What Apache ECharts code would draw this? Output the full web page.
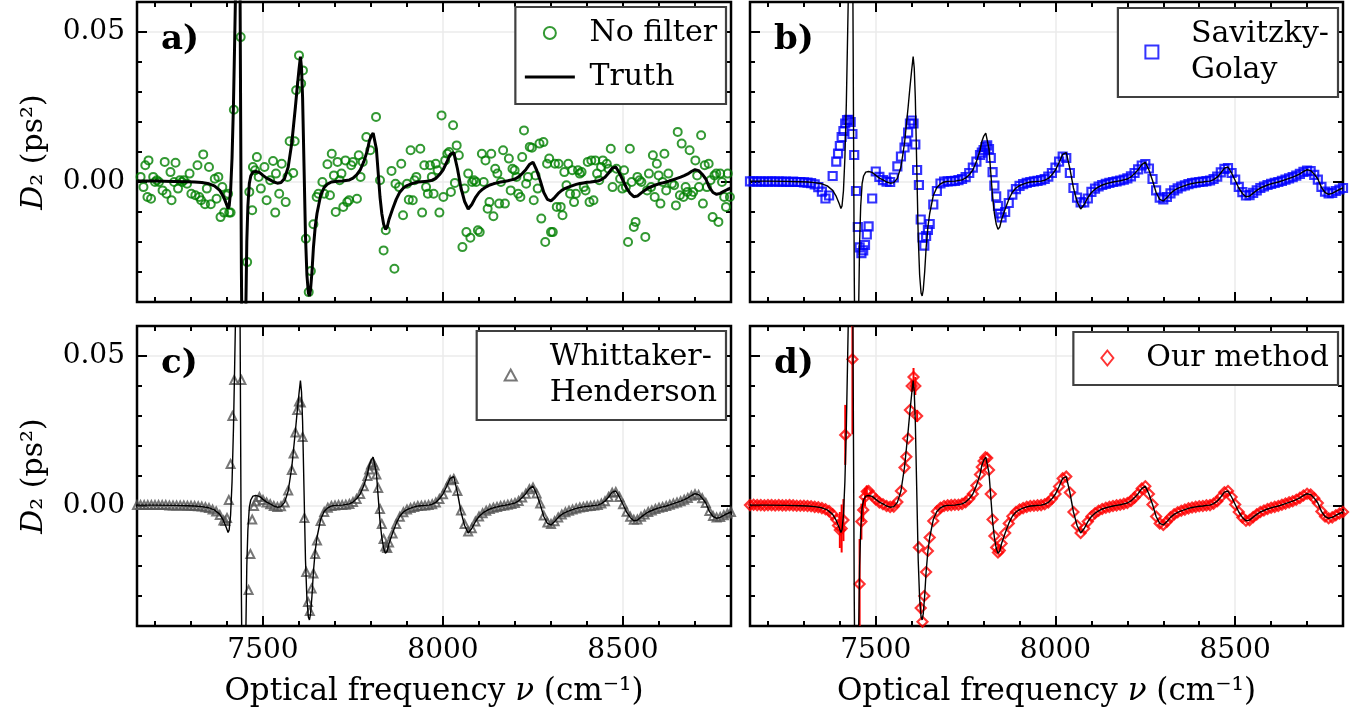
<!DOCTYPE html>
<html><head><meta charset="utf-8">
<script src="https://cdn.jsdelivr.net/npm/echarts@6/dist/echarts.min.js"></script>
<style>html,body{margin:0;padding:0;background:#fff}#c{width:1363px;height:725px}</style>
</head><body><div id="c"></div>
<script>
// ---------- axis ranges / tick labels ----------
const xMin = 7150, xMax = 8800, yMin = -0.04, yMax = 0.06;
const xMajorTicks = [7500, 8000, 8500];
const xMinorTicks = [7200, 7300, 7400, 7600, 7700, 7800, 7900, 8100, 8200, 8300, 8400, 8600, 8700];
const yMajorTicks = [0.00, 0.05];
const yMinorTicks = [-0.03, -0.02, -0.01, 0.01, 0.02, 0.03, 0.04];
const panelLabels = ['a)', 'b)', 'c)', 'd)'];
const seriesNames = ['No filter', 'Savitzky-\nGolay', 'Whittaker-\nHenderson', 'Our method'];

// ---------- truth curve ----------
const truthX = [7150,7200,7250,7290,7310,7330,7350,7365,7380,7390,7398,7403,7406,7410,7414,7418,7421,7424,7427,7430,7433,7436,7438,7440,7443,7446,7449,7452,7455,7458,7462,7466,7472,7480,7490,7500,7510,7520,7530,7540,7550,7560,7570,7580,7585,7590,7595,7600,7604,7607,7610,7614,7618,7622,7626,7629,7632,7636,7640,7645,7650,7660,7670,7680,7690,7700,7720,7740,7750,7760,7770,7780,7790,7795,7800,7806,7810,7815,7820,7825,7830,7835,7840,7845,7850,
7860,7870,7880,7890,7900,7910,7920,7930,7940,7950,7960,7970,7980,7990,8000,8010,8020,8030,8040,8050,8060,8070,8080,8090,8100,8110,8120,8130,8140,8150,8160,8170,8180,8190,8200,8210,8220,8230,8240,8250,8260,8270,8280,8290,8300,8310,8320,8330,8340,8350,8360,8370,8380,8390,8400,8410,8420,8430,8440,8450,8460,8470,8480,8490,8500,8510,8520,8530,8540,8550,8560,8570,8580,8590,8600,8610,8620,8630,8640,8650,8660,8670,8680,8690,8700,8710,8720,8730,8740,8750,8760,8770,8780,8790,8800];
const truthY = [0.0003,0.0003,0.0002,0.0001,0.0000,-0.0002,-0.0006,-0.0013,-0.0028,-0.0048,-0.0072,-0.0088,-0.0080,-0.0030,0.0080,0.0260,0.0450,0.0650,0.0900,0.1100,0.1000,0.0700,0.0200,-0.0300,-0.0700,-0.0900,-0.0750,-0.0450,-0.0200,-0.0080,-0.0005,0.0020,0.0033,0.0035,0.0032,0.0022,0.0013,0.0007,0.0000,-0.0004,-0.0002,0.0012,0.0050,0.0130,0.0190,0.0250,0.0315,0.0375,0.0418,0.0380,0.0280,0.0050,-0.0180,-0.0310,-0.0370,-0.0380,-0.0360,-0.0300,-0.0220,-0.0150,-0.0105,-0.0045,-0.0018,-0.0006,0.0000,0.0002,0.0003,0.0007,0.0013,0.0024,0.0040,0.0068,0.0105,0.0135,0.0152,0.0163,0.0158,0.0110,0.0030,-0.0050,-0.0105,-0.0140,-0.0158,-0.0150,-0.0125,
-0.0090,-0.0058,-0.0034,-0.0020,-0.0012,-0.0007,-0.0003,0.0000,0.0001,0.0002,0.0003,0.0006,0.0012,0.0024,0.0040,0.0065,0.0092,0.0098,0.0045,-0.0020,-0.0065,-0.0090,-0.0075,-0.0052,-0.0035,-0.0024,-0.0016,-0.0010,-0.0006,-0.0003,0.0000,0.0002,0.0004,0.0007,0.0010,0.0017,0.0028,0.0041,0.0058,0.0066,0.0040,0.0005,-0.0035,-0.0058,-0.0063,-0.0052,-0.0038,-0.0028,-0.0021,-0.0016,-0.0012,-0.0008,-0.0005,-0.0003,-0.0001,0.0000,0.0002,0.0003,0.0008,0.0016,0.0030,0.0046,0.0050,0.0030,0.0005,-0.0020,-0.0038,-0.0049,-0.0047,-0.0037,-0.0028,-0.0020,-0.0015,-0.0010,-0.0006,-0.0003,0.0000,0.0004,0.0008,0.0012,0.0016,0.0021,0.0027,0.0035,0.0041,0.0038,0.0026,0.0010,-0.0018,-0.0035,-0.0041,-0.0038,-0.0031,-0.0025,-0.0020];

// ---------- panel a: unfiltered (noisy) samples ----------
const rawX = [7160,7168,7173,7179,7182,7189,7195,7200,7205,7211,7221,7227,7232,7243,7246,7253,7257,7264,7269,7275,7280,7289,7296,7301,7312,7318,7323,7328,7334,7339,7344,7350,7355,7366,7371,7376,7382,7387,7392,7398,7403,7406,7410,7419,7438,7456,7462,7470,7472,7478,7483,7488,7494,7504,7510,7520,7528,7534,7536,7545,7552,7563,7568,7574,7584,7588,7592,7600,7606,7611,7619,7627,7633,7640,7649,7654,7665,7670,7679,7686,7691,7697,7702,7707,7713,7718,7723,7729,7734,7739,7745,7750,7761,7766,7771,7777,7787,7798,7814,7825,7835,7841,7857,7865,7868,7878,7884,7889,7900,7905,7910,7916,7921,7926,7937,7942,7948,7953,7958,7964,7969,7974,7980,7985,7990,7996,8001,8006,8012,8017,8022,8028,8033,8038,8044,8054,8060,8065,8070,8076,8081,8086,8092,8097,8102,8108,8113,8118,8124,8129,8134,8140,8145,8151,8156,8161,8167,8172,8183,8188,8193,8199,8204,8209,8215,8220,8225,8231,8236,8241,8247,8252,8257,8263,8268,8273,8279,8284,8289,8295,8300,8305,8311,8316,8321,8327,8332,8337,8343,8348,8353,8359,8364,8369,8375,8380,8385,8391,8396,8402,8407,8412,8418,8423,8428,8434,8439,8444,8455,8460,8466,8471,8482,8492,8498,8503,8508,8514,8519,8524,8530,8535,8540,8546,8551,8562,8567,8572,8578,8583,8588,8594,8599,8604,8610,8615,8620,8626,8636,8642,8647,8652,8658,8663,8668,8674,8679,8685,8690,8695,8701,8706,8711,8717,8722,8727,8733,8738,8743,8749,8754,8759,8765,8770,8775,8781,8786,8791,8797];
const rawY = [0.0017,-0.0017,0.0056,-0.0050,0.0072,-0.0056,0.0017,0.0000,0.0006,0.0000,-0.0028,0.0067,-0.0039,0.0033,-0.0061,0.0000,0.0064,-0.0022,0.0006,0.0000,0.0006,-0.0006,0.0028,-0.0039,-0.0044,0.0056,-0.0050,-0.0061,0.0092,-0.0074,-0.0022,0.0050,-0.0074,0.0011,-0.0056,0.0017,-0.0117,-0.0017,-0.0102,-0.0044,-0.0039,-0.0102,-0.0102,0.0241,0.0483,-0.0267,-0.0033,-0.0094,0.0050,0.0039,0.0083,0.0017,-0.0022,0.0050,-0.0061,0.0006,0.0070,-0.0102,0.0028,-0.0039,0.0061,-0.0067,0.0017,0.0136,0.0030,0.0136,0.0306,0.0422,0.0328,0.0372,-0.0189,-0.0367,-0.0297,-0.0141,-0.0050,-0.0039,0.0000,-0.0039,0.0059,-0.0044,0.0094,0.0022,-0.0100,0.0067,0.0006,0.0028,-0.0083,0.0072,-0.0067,-0.0061,0.0056,0.0067,-0.0056,0.0089,0.0017,0.0067,0.0150,0.0106,0.0217,0.0006,-0.0228,-0.0161,0.0037,-0.0289,-0.0006,-0.0017,0.0061,-0.0111,-0.0006,-0.0059,0.0106,-0.0061,0.0006,0.0017,0.0111,-0.0102,0.0056,-0.0017,-0.0039,0.0056,0.0017,-0.0039,0.0061,0.0039,-0.0102,0.0222,-0.0050,0.0072,0.0094,0.0100,-0.0033,0.0189,-0.0003,0.0122,0.0089,-0.0217,-0.0022,-0.0167,0.0028,-0.0186,0.0000,0.0006,0.0000,-0.0161,-0.0167,0.0094,0.0000,0.0072,-0.0089,-0.0067,0.0094,-0.0114,0.0044,0.0028,-0.0072,0.0000,0.0106,-0.0072,0.0078,-0.0028,0.0044,0.0039,0.0017,-0.0039,-0.0050,0.0083,0.0172,-0.0006,0.0017,0.0117,0.0114,-0.0061,0.0022,-0.0022,0.0128,-0.0122,0.0133,-0.0200,0.0061,0.0078,-0.0167,-0.0167,0.0061,-0.0083,0.0061,-0.0083,-0.0111,0.0033,-0.0011,0.0061,-0.0039,0.0039,-0.0067,-0.0039,0.0039,0.0028,0.0033,-0.0017,-0.0028,0.0067,-0.0067,0.0072,-0.0061,0.0072,0.0028,0.0006,0.0050,0.0072,0.0061,0.0044,0.0111,-0.0017,0.0044,0.0011,-0.0022,0.0039,-0.0017,-0.0200,0.0111,0.0000,-0.0150,-0.0133,0.0017,0.0006,0.0000,-0.0183,-0.0028,0.0028,-0.0017,0.0089,-0.0050,0.0061,0.0022,-0.0072,0.0000,0.0094,-0.0028,0.0028,-0.0006,-0.0011,-0.0078,0.0167,-0.0044,0.0128,-0.0050,-0.0017,-0.0033,0.0106,-0.0044,-0.0033,0.0072,0.0022,-0.0017,0.0156,-0.0072,0.0056,-0.0017,0.0061,0.0006,-0.0117,0.0022,0.0028,-0.0133,0.0028,0.0000,-0.0050,-0.0083,0.0028,-0.0050];

// ---------- panels b, c, d: filtered samples on a shared frequency grid ----------
const filtX = [7150,7160,7170,7180,7190,7200,7210,7220,7230,7240,7250,7260,7270,7280,7290,7300,7310,7320,7330,7340,7350,7360,7370,7380,7390,
7395,7400,7405,7410,7415,7420,7425,7430,7435,7440,7445,7450,7455,7460,7465,7470,7475,7480,
7490,7500,7510,7520,7530,7540,7550,7560,7570,7580,
7585,7590,7595,7600,7605,7610,7615,7620,7625,7630,7635,7640,7645,7650,
7660,7670,7680,7690,7700,7710,7720,7730,7740,7750,7760,7770,7780,7790,
7795,7800,7805,7810,7815,7820,7825,7830,7835,7840,7845,7850,
7860,7870,7880,7890,7900,7910,7920,7930,7940,7950,7960,7970,7980,7990,8000,8010,8020,8030,8040,8050,8060,8070,8080,8090,8100,8110,8120,8130,8140,8150,8160,8170,8180,8190,8200,8210,8220,8230,8240,8250,8260,8270,8280,8290,8300,8310,8320,8330,8340,8350,8360,8370,8380,8390,8400,8410,8420,8430,8440,8450,8460,8470,8480,8490,8500,8510,8520,8530,8540,8550,8560,8570,8580,8590,8600,8610,8620,8630,8640,8650,8660,8670,8680,8690,8700,8710,8720,8730,8740,8750,8760,8770,8780,8790,8800];

const sgY = [0.0002,0.0002,0.0001,0.0002,0.0001,0.0001,0.0002,0.0001,0.0001,0.0001,0.0001,0.0000,0.0001,0.0000,0.0000,-0.0001,-0.0002,-0.0004,-0.0008,-0.0017,-0.0032,-0.0055,-0.0045,0.0020,0.0068,
0.0095,0.0120,0.0150,0.0170,0.0195,0.0206,0.0207,0.0200,0.0160,0.0090,-0.0030,-0.0150,-0.0218,-0.0237,-0.0228,-0.0210,-0.0175,-0.0148,
-0.0055,0.0035,0.0017,0.0006,0.0001,0.0000,0.0015,0.0052,0.0085,0.0115,
0.0135,0.0165,0.0195,0.0205,0.0195,0.0125,0.0040,-0.0010,-0.0125,-0.0185,-0.0212,-0.0180,-0.0160,-0.0140,
-0.0075,-0.0030,-0.0005,0.0001,0.0002,0.0003,0.0004,0.0006,0.0010,0.0016,0.0030,0.0048,0.0068,0.0090,
0.0098,0.0106,0.0116,0.0122,0.0110,0.0080,0.0033,-0.0012,-0.0048,-0.0080,-0.0105,-0.0118,
-0.0100,-0.0070,-0.0042,-0.0024,-0.0013,-0.0007,-0.0003,0.0000,0.0002,0.0004,0.0006,0.0010,0.0018,0.0030,0.0048,0.0068,0.0085,0.0080,0.0030,-0.0020,-0.0052,-0.0068,-0.0068,-0.0055,-0.0033,-0.0022,-0.0015,-0.0010,-0.0006,-0.0003,0.0000,0.0002,0.0005,0.0008,0.0012,0.0019,0.0030,0.0042,0.0055,0.0060,0.0045,0.0010,-0.0028,-0.0052,-0.0058,-0.0050,-0.0038,-0.0028,-0.0021,-0.0015,-0.0011,-0.0007,-0.0004,-0.0002,0.0000,0.0001,0.0003,0.0005,0.0010,0.0018,0.0032,0.0044,0.0046,0.0030,0.0008,-0.0016,-0.0034,-0.0045,-0.0044,-0.0036,-0.0028,-0.0020,-0.0015,-0.0010,-0.0006,-0.0003,0.0000,0.0004,0.0008,0.0012,0.0016,0.0021,0.0027,0.0034,0.0038,0.0036,0.0024,0.0008,-0.0016,-0.0032,-0.0038,-0.0036,-0.0030,-0.0025,-0.0020];

const whY = [0.0003,0.0003,0.0003,0.0003,0.0003,0.0003,0.0003,0.0003,0.0003,0.0002,0.0002,0.0002,0.0002,0.0002,0.0001,0.0001,0.0000,-0.0001,-0.0002,-0.0004,-0.0007,-0.0012,-0.0018,-0.0030,-0.0048,
-0.0050,-0.0040,0.0020,0.0140,0.0300,0.0420,0.0800,0.0950,0.0700,0.0420,-0.0700,-0.0800,-0.0500,-0.0280,-0.0160,-0.0045,0.0000,0.0015,
0.0030,0.0020,0.0012,0.0006,0.0000,-0.0003,-0.0001,0.0012,0.0052,0.0120,
0.0175,0.0245,0.0320,0.0348,0.0345,0.0230,-0.0040,-0.0220,-0.0320,-0.0350,-0.0275,-0.0225,-0.0160,-0.0115,
-0.0050,-0.0020,-0.0006,0.0000,0.0002,0.0003,0.0003,0.0004,0.0007,0.0013,0.0023,0.0040,0.0066,0.0100,
0.0122,0.0138,0.0145,0.0135,0.0105,0.0060,-0.0010,-0.0060,-0.0110,-0.0135,-0.0140,-0.0122,
-0.0092,-0.0060,-0.0036,-0.0021,-0.0012,-0.0007,-0.0003,0.0000,0.0001,0.0002,0.0003,0.0006,0.0012,0.0023,0.0039,0.0062,0.0086,0.0090,0.0050,-0.0015,-0.0060,-0.0085,-0.0074,-0.0052,-0.0035,-0.0024,-0.0016,-0.0010,-0.0006,-0.0003,0.0000,0.0002,0.0004,0.0007,0.0010,0.0017,0.0028,0.0041,0.0056,0.0062,0.0042,0.0008,-0.0032,-0.0055,-0.0060,-0.0051,-0.0038,-0.0028,-0.0021,-0.0016,-0.0012,-0.0008,-0.0005,-0.0003,-0.0001,0.0000,0.0002,0.0003,0.0008,0.0016,0.0030,0.0044,0.0047,0.0030,0.0006,-0.0019,-0.0036,-0.0046,-0.0045,-0.0036,-0.0028,-0.0020,-0.0015,-0.0010,-0.0006,-0.0003,0.0000,0.0004,0.0008,0.0012,0.0016,0.0021,0.0027,0.0034,0.0039,0.0037,0.0026,0.0010,-0.0017,-0.0033,-0.0038,-0.0037,-0.0031,-0.0025,-0.0020];

const oursY = [0.0003,0.0004,0.0003,0.0003,0.0002,0.0003,0.0003,0.0002,0.0003,0.0002,0.0002,0.0003,0.0002,0.0001,0.0001,0.0001,0.0000,-0.0001,-0.0003,-0.0004,-0.0007,-0.0011,-0.0017,-0.0028,-0.0045,
-0.0065,-0.0080,-0.0075,-0.0047,0.0237,0.0700,0.0950,0.1000,0.0489,-0.0700,-0.0950,-0.0650,-0.0260,-0.0052,-0.0013,0.0030,0.0048,0.0050,
0.0035,0.0022,0.0012,0.0006,0.0000,-0.0003,-0.0002,0.0013,0.0050,0.0128,
0.0164,0.0225,0.0320,0.0400,0.0430,0.0400,0.0300,-0.0138,-0.0340,-0.0386,-0.0300,-0.0220,-0.0150,-0.0105,
-0.0050,-0.0018,-0.0006,0.0000,0.0002,0.0003,0.0004,0.0004,0.0007,0.0013,0.0024,0.0040,0.0068,0.0105,
0.0130,0.0150,0.0162,0.0160,0.0120,0.0040,-0.0045,-0.0100,-0.0138,-0.0155,-0.0148,-0.0125,
-0.0090,-0.0058,-0.0034,-0.0020,-0.0012,-0.0007,-0.0003,0.0000,0.0001,0.0002,0.0003,0.0006,0.0012,0.0024,0.0040,0.0065,0.0092,0.0098,0.0045,-0.0020,-0.0065,-0.0090,-0.0075,-0.0052,-0.0035,-0.0024,-0.0016,-0.0010,-0.0006,-0.0003,0.0000,0.0002,0.0004,0.0007,0.0010,0.0017,0.0028,0.0041,0.0058,0.0066,0.0040,0.0005,-0.0035,-0.0058,-0.0063,-0.0052,-0.0038,-0.0028,-0.0021,-0.0016,-0.0012,-0.0008,-0.0005,-0.0003,-0.0001,0.0000,0.0002,0.0003,0.0008,0.0016,0.0030,0.0046,0.0050,0.0030,0.0005,-0.0020,-0.0038,-0.0049,-0.0047,-0.0037,-0.0028,-0.0020,-0.0015,-0.0010,-0.0006,-0.0003,0.0000,0.0004,0.0008,0.0012,0.0016,0.0021,0.0027,0.0035,0.0041,0.0038,0.0026,0.0010,-0.0018,-0.0035,-0.0041,-0.0038,-0.0031,-0.0025,-0.0020];

// uncertainty (half-width) of "Our method" at selected grid frequencies
const oursErrX = [7400, 7405, 7410, 7415, 7435, 7455, 7460, 7465, 7470, 7475, 7600, 7605, 7610, 7615, 7625];
const oursErr  = [0.006, 0.008, 0.007, 0.010, 0.025, 0.015, 0.006, 0.004, 0.003, 0.002, 0.002, 0.003, 0.003, 0.002, 0.002];

// ---------- build chart ----------
const FONT = 'DejaVu Serif';
const pair = (xs, ys) => xs.map((x, i) => [x, ys[i]]);
const grids = [
  {left: 137, top: 2, width: 594, height: 300},
  {left: 750, top: 2, width: 593, height: 300},
  {left: 137, top: 326, width: 594, height: 300},
  {left: 750, top: 326, width: 593, height: 300}
];
const xAxes = [], yAxes = [];
grids.forEach((g, i) => {
  const bottomRow = i >= 2, leftCol = i % 2 === 0;
  const tick = (vals, len) => ({show: true, inside: true, length: len, customValues: vals, lineStyle: {color: '#000', width: 2}});
  const base = {type: 'value', gridIndex: i, axisLine: {show: false, onZero: false}, splitLine: {show: false}, axisLabel: {show: false}};
  xAxes.push(Object.assign({}, base, {position: 'bottom', min: xMin, max: xMax,
    axisTick: tick(xMajorTicks, 10),
    splitLine: {show: true, lineStyle: {color: '#ebebeb', width: 1.5}},
    axisLabel: {show: bottomRow, customValues: xMajorTicks, margin: 11, color: '#000', fontFamily: FONT, fontSize: 28,
      formatter: v => String(Math.round(v))},
    name: bottomRow ? 'Optical frequency {i|ν} (cm⁻¹)' : '', nameLocation: 'middle', nameGap: 50,
    nameTextStyle: {color: '#000', fontFamily: FONT, fontSize: 31, rich: {i: {fontStyle: 'italic', fontFamily: FONT, fontSize: 31, color: '#000'}}}
  }));
  xAxes.push(Object.assign({}, base, {position: 'bottom', min: xMin, max: xMax, axisTick: tick(xMinorTicks, 5)}));
  xAxes.push(Object.assign({}, base, {position: 'top', min: xMin, max: xMax, axisTick: tick(xMajorTicks, 10)}));
  xAxes.push(Object.assign({}, base, {position: 'top', min: xMin, max: xMax, axisTick: tick(xMinorTicks, 5)}));
  yAxes.push(Object.assign({}, base, {position: 'left', min: yMin, max: yMax,
    axisTick: tick(yMajorTicks, 10),
    splitLine: {show: true, lineStyle: {color: '#ebebeb', width: 1.5}},
    axisLabel: {show: leftCol, customValues: yMajorTicks, margin: 12, color: '#000', fontFamily: FONT, fontSize: 28,
      formatter: v => v.toFixed(2)},
    name: leftCol ? '{i|D}₂ (ps²)' : '', nameLocation: 'middle', nameRotate: 90, nameGap: 88,
    nameTextStyle: {color: '#000', fontFamily: FONT, fontSize: 30, rich: {i: {fontStyle: 'italic', fontFamily: FONT, fontSize: 30, color: '#000'}}}
  }));
  yAxes.push(Object.assign({}, base, {position: 'left', min: yMin, max: yMax, axisTick: tick(yMinorTicks, 5)}));
  yAxes.push(Object.assign({}, base, {position: 'right', min: yMin, max: yMax, axisTick: tick(yMajorTicks, 10)}));
  yAxes.push(Object.assign({}, base, {position: 'right', min: yMin, max: yMax, axisTick: tick(yMinorTicks, 5)}));
});

const markerStyles = [
  {symbol: 'circle', size: 8, color: '#008000', bw: 2},
  {symbol: 'rect', size: 8, color: '#0000ff', bw: 2.2},
  {symbol: 'triangle', size: 8, color: '#555555', bw: 2},
  {symbol: 'diamond', size: 10, color: '#ff0000', bw: 2.2}
];
const markerData = [pair(rawX, rawY), pair(filtX, sgY), pair(filtX, whY), pair(filtX, oursY)];

const series = [];
markerData.forEach((d, i) => {
  const m = markerStyles[i];
  series.push({type: 'scatter', name: seriesNames[i], xAxisIndex: 4 * i, yAxisIndex: 4 * i,
    data: d, symbol: m.symbol, symbolSize: m.size, clip: true, z: 2,
    itemStyle: {color: 'rgba(0,0,0,0)', borderColor: m.color, borderWidth: m.bw}});
});
const oursErrData = oursErrX.map((x, k) => [x, oursY[filtX.indexOf(x)], oursErr[k]]);
series.push({type: 'custom', xAxisIndex: 12, yAxisIndex: 12, clip: true, z: 3, data: oursErrData,
  renderItem: (p, api) => {
    const x = api.value(0), y = api.value(1), e = api.value(2);
    const a = api.coord([x, y - e]), b = api.coord([x, y + e]);
    return {type: 'line', shape: {x1: a[0], y1: a[1], x2: b[0], y2: b[1]}, style: {stroke: '#ff0000', lineWidth: 2}};
  }});
for (let i = 0; i < 4; i++) {
  series.push({type: 'line', name: i === 0 ? 'Truth' : 'truth' + i, xAxisIndex: 4 * i, yAxisIndex: 4 * i,
    data: pair(truthX, truthY), showSymbol: false, symbol: 'none', clip: true, z: 5,
    lineStyle: {color: '#000', width: i === 0 ? 3 : 1.4}, itemStyle: {color: '#000'}});
}

// legends: icon centre sits 33 px from the box edge, text starts 39 px after icon centre
const legendBase = {orient: 'vertical', selectedMode: false, backgroundColor: '#fff',
  borderColor: '#404040', borderWidth: 2.2, borderRadius: 0, itemGap: 8,
  textStyle: {color: '#000', fontFamily: FONT, fontSize: 30, lineHeight: 36}};
const spacerLegend = (name, w, h, right, top) => Object.assign({}, legendBase, {
  data: [name], right: right, top: top, itemWidth: w, itemHeight: h,
  padding: [8, 9, 9, 33 - w / 2],
  formatter: n => n.split('\n').map(s => '{s| }' + s).join('\n'),
  textStyle: Object.assign({}, legendBase.textStyle, {rich: {s: {width: 34 - w / 2, fontSize: 30, lineHeight: 36}}})
});
const legends = [
  Object.assign({}, legendBase, {data: ['No filter', {name: 'Truth', itemStyle: {opacity: 0}, lineStyle: {width: 3, color: '#000'}}], right: 637, top: 7,
    itemWidth: 50, itemHeight: 12, padding: [8, 9, 9, 8],
    formatter: n => ' ' + n}),
  spacerLegend(seriesNames[1], 13, 13, 25, 8),
  spacerLegend(seriesNames[2], 12, 11, 637, 331),
  spacerLegend(seriesNames[3], 12, 15, 25, 332)
];

const titlePos = [{left: 161, top: 23}, {left: 774, top: 23}, {left: 161, top: 347}, {left: 774, top: 347}];
const titles = panelLabels.map((t, i) => ({text: t, left: titlePos[i].left, top: titlePos[i].top, padding: 0,
  textStyle: {fontFamily: FONT, fontWeight: 'bold', fontSize: 34, color: '#000'}}));

const chart = echarts.init(document.getElementById('c'), null, {renderer: 'canvas'});
chart.setOption({
  animation: false,
  backgroundColor: '#fff',
  title: titles,
  grid: grids.map(g => Object.assign({show: true, borderColor: '#000', borderWidth: 2.5, backgroundColor: 'transparent', containLabel: false}, g)),
  xAxis: xAxes,
  yAxis: yAxes,
  legend: legends,
  series: series
});
</script>
</body></html>
